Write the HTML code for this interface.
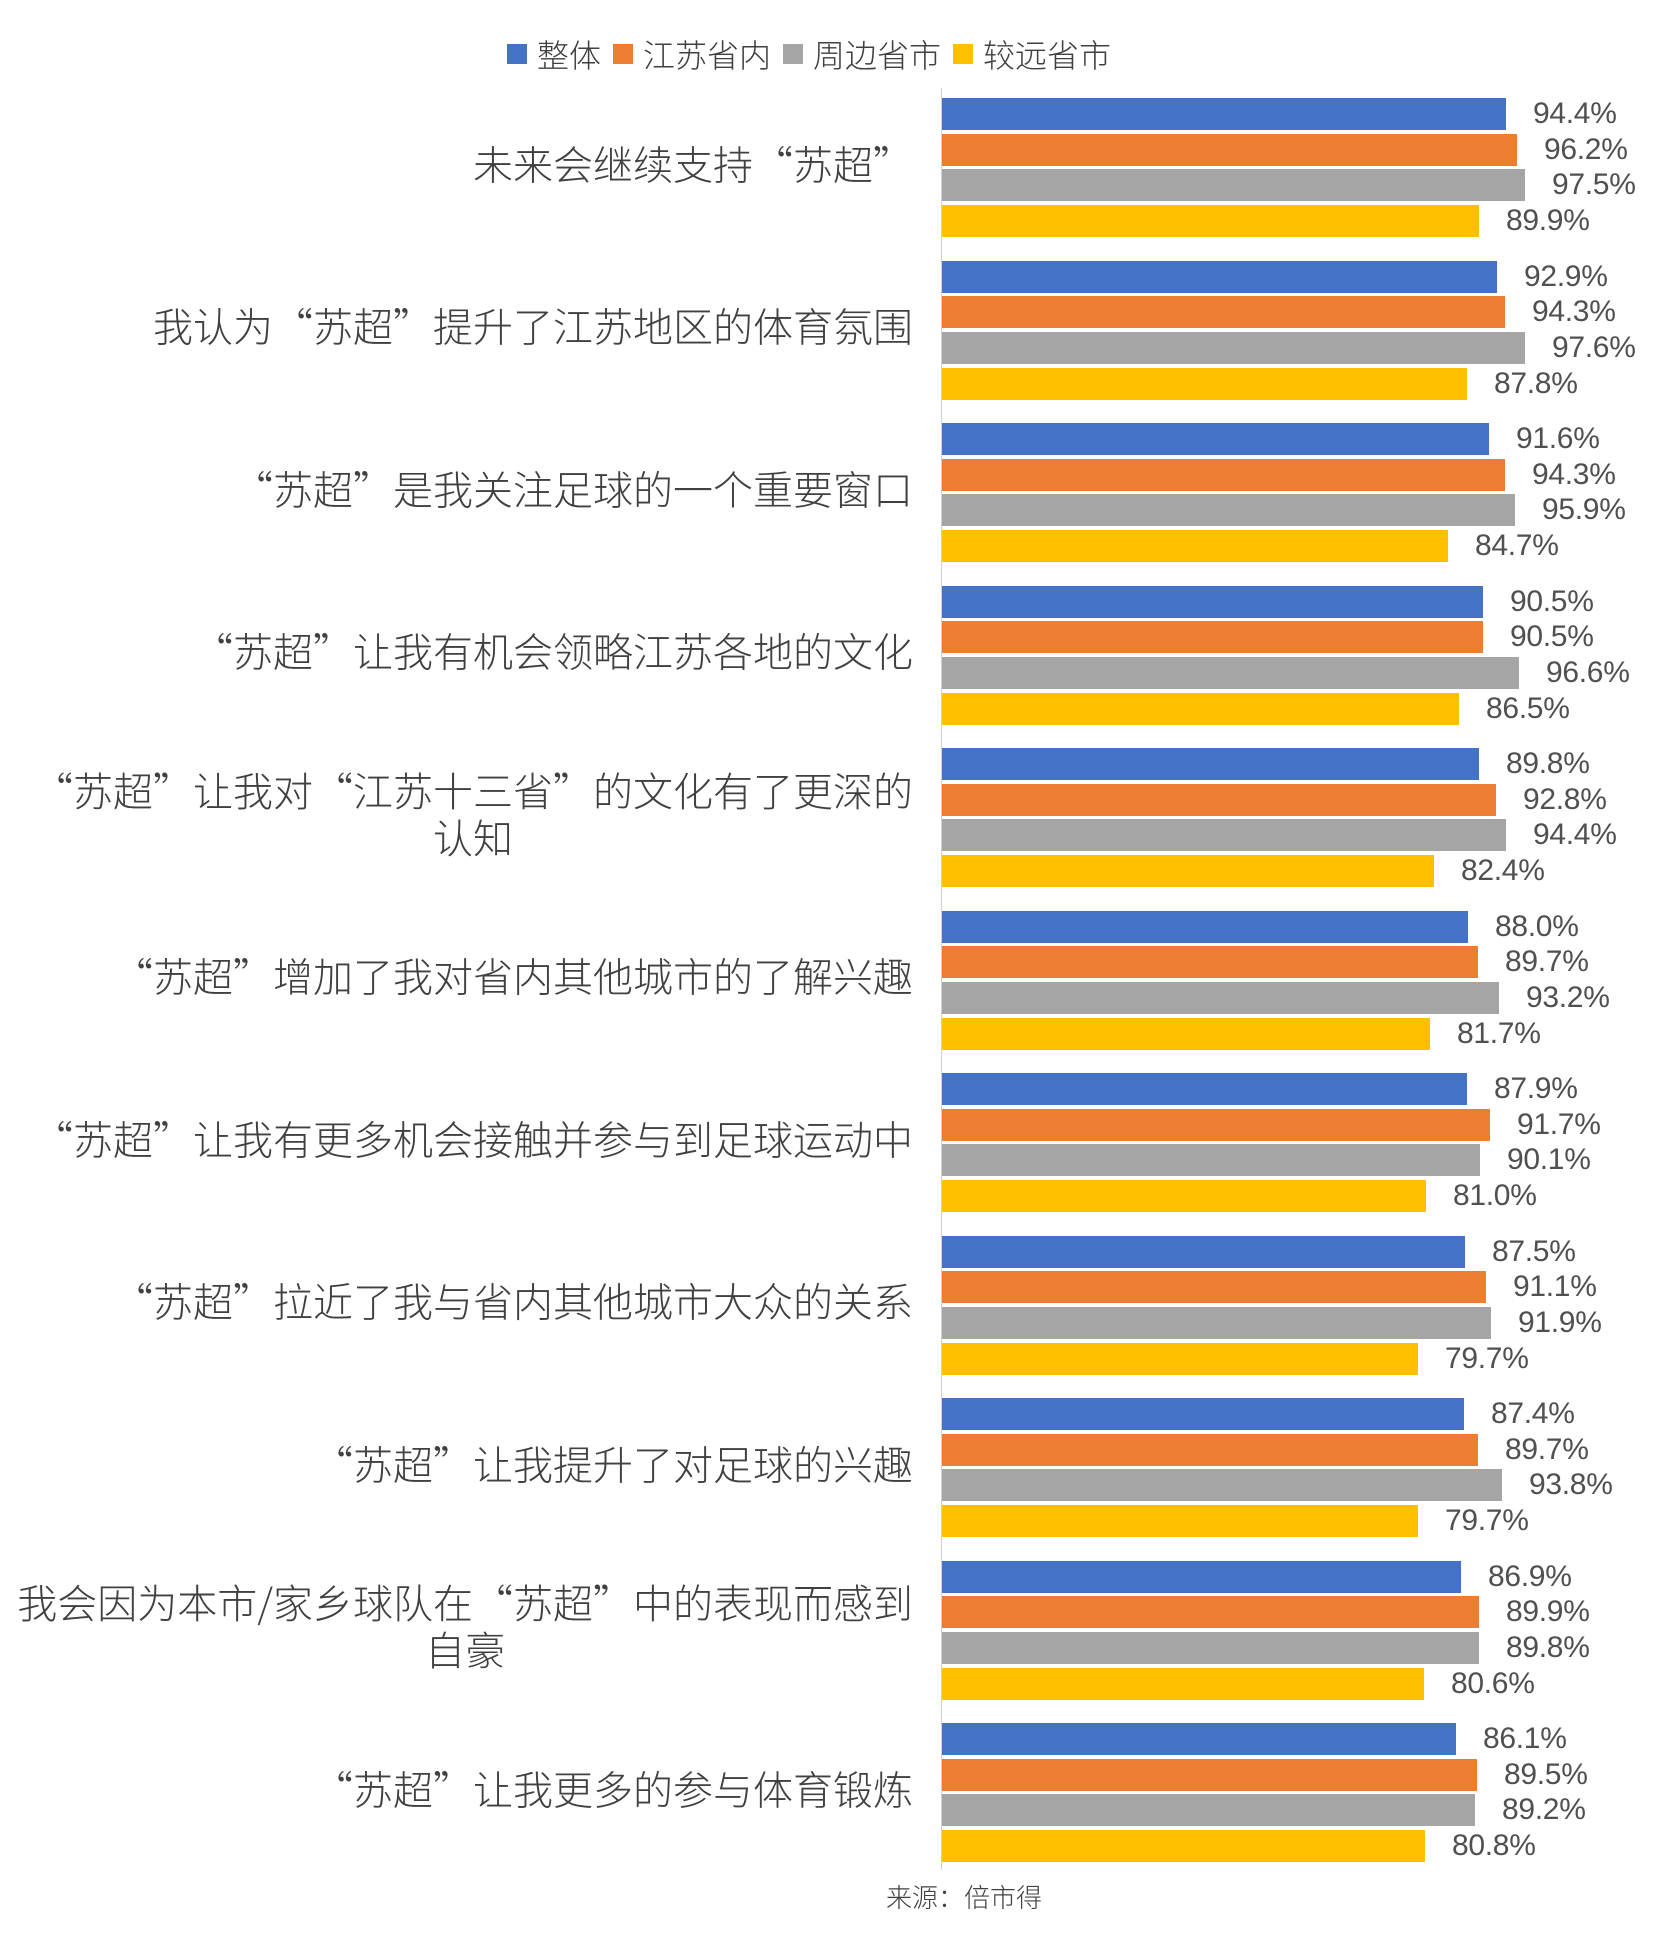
<!DOCTYPE html>
<html><head><meta charset="utf-8"><style>
body{margin:0;width:1668px;height:1933px;background:#fff;position:relative;overflow:hidden;font-family:"Liberation Sans","Noto Sans CJK SC",sans-serif;color:#404040}
.leg{position:absolute;top:31px;left:507px;font-size:32px;display:flex;align-items:center;white-space:nowrap;font-family:"Noto Sans CJK SC",sans-serif;font-weight:300}
.leg i{display:inline-block;width:20px;height:20px;margin:0 10px 0 0}
.leg span{margin-right:12px}
.axis{position:absolute;left:941px;top:88px;width:1px;height:1782px;background:#d0d0d0}
.g{position:absolute;left:942px}
.r{display:flex;align-items:center;height:32px;margin-bottom:3.7px}
.b{height:32px}
.r span{font-size:30px;margin-left:27px;white-space:nowrap;letter-spacing:-0.3px;color:#505050}
.c1{background:#4472C4}.c2{background:#ED7D31}.c3{background:#A5A5A5}.c4{background:#FFC000}
.lab{position:absolute;right:755px;font-size:40px;text-align:center;line-height:47px;white-space:nowrap;transform:translateY(-50%);margin-top:-3px;font-family:"Noto Sans CJK SC",sans-serif;font-weight:300;color:#404040}
.src{position:absolute;left:886px;top:1878px;font-size:26px;font-family:"Noto Sans CJK SC",sans-serif;font-weight:300}
</style></head><body>
<div class="leg"><i class="c1"></i><span>整体</span><i class="c2"></i><span>江苏省内</span><i class="c3"></i><span>周边省市</span><i class="c4"></i><span>较远省市</span></div>
<div class="axis"></div>

<div class="lab" style="top:166px">未来会继续支持“苏超”</div>
<div class="lab" style="top:328px">我认为“苏超”提升了江苏地区的体育氛围</div>
<div class="lab" style="top:491px">“苏超”是我关注足球的一个重要窗口</div>
<div class="lab" style="top:653px">“苏超”让我有机会领略江苏各地的文化</div>
<div class="lab" style="top:816px">“苏超”让我对“江苏十三省”的文化有了更深的<br>认知</div>
<div class="lab" style="top:978px">“苏超”增加了我对省内其他城市的了解兴趣</div>
<div class="lab" style="top:1141px">“苏超”让我有更多机会接触并参与到足球运动中</div>
<div class="lab" style="top:1303px">“苏超”拉近了我与省内其他城市大众的关系</div>
<div class="lab" style="top:1466px">“苏超”让我提升了对足球的兴趣</div>
<div class="lab" style="top:1628px">我会因为本市/家乡球队在“苏超”中的表现而感到<br>自豪</div>
<div class="lab" style="top:1791px">“苏超”让我更多的参与体育锻炼</div>

<div class="g" style="top:98px">
<div class="r"><div class="b c1" style="width:564px"></div><span>94.4%</span></div>
<div class="r"><div class="b c2" style="width:575px"></div><span>96.2%</span></div>
<div class="r"><div class="b c3" style="width:583px"></div><span>97.5%</span></div>
<div class="r"><div class="b c4" style="width:537px"></div><span>89.9%</span></div>
</div>
<div class="g" style="top:260.5px">
<div class="r"><div class="b c1" style="width:555px"></div><span>92.9%</span></div>
<div class="r"><div class="b c2" style="width:563px"></div><span>94.3%</span></div>
<div class="r"><div class="b c3" style="width:583px"></div><span>97.6%</span></div>
<div class="r"><div class="b c4" style="width:525px"></div><span>87.8%</span></div>
</div>
<div class="g" style="top:423px">
<div class="r"><div class="b c1" style="width:547px"></div><span>91.6%</span></div>
<div class="r"><div class="b c2" style="width:563px"></div><span>94.3%</span></div>
<div class="r"><div class="b c3" style="width:573px"></div><span>95.9%</span></div>
<div class="r"><div class="b c4" style="width:506px"></div><span>84.7%</span></div>
</div>
<div class="g" style="top:585.5px">
<div class="r"><div class="b c1" style="width:541px"></div><span>90.5%</span></div>
<div class="r"><div class="b c2" style="width:541px"></div><span>90.5%</span></div>
<div class="r"><div class="b c3" style="width:577px"></div><span>96.6%</span></div>
<div class="r"><div class="b c4" style="width:517px"></div><span>86.5%</span></div>
</div>
<div class="g" style="top:748px">
<div class="r"><div class="b c1" style="width:537px"></div><span>89.8%</span></div>
<div class="r"><div class="b c2" style="width:554px"></div><span>92.8%</span></div>
<div class="r"><div class="b c3" style="width:564px"></div><span>94.4%</span></div>
<div class="r"><div class="b c4" style="width:492px"></div><span>82.4%</span></div>
</div>
<div class="g" style="top:910.5px">
<div class="r"><div class="b c1" style="width:526px"></div><span>88.0%</span></div>
<div class="r"><div class="b c2" style="width:536px"></div><span>89.7%</span></div>
<div class="r"><div class="b c3" style="width:557px"></div><span>93.2%</span></div>
<div class="r"><div class="b c4" style="width:488px"></div><span>81.7%</span></div>
</div>
<div class="g" style="top:1073px">
<div class="r"><div class="b c1" style="width:525px"></div><span>87.9%</span></div>
<div class="r"><div class="b c2" style="width:548px"></div><span>91.7%</span></div>
<div class="r"><div class="b c3" style="width:538px"></div><span>90.1%</span></div>
<div class="r"><div class="b c4" style="width:484px"></div><span>81.0%</span></div>
</div>
<div class="g" style="top:1235.5px">
<div class="r"><div class="b c1" style="width:523px"></div><span>87.5%</span></div>
<div class="r"><div class="b c2" style="width:544px"></div><span>91.1%</span></div>
<div class="r"><div class="b c3" style="width:549px"></div><span>91.9%</span></div>
<div class="r"><div class="b c4" style="width:476px"></div><span>79.7%</span></div>
</div>
<div class="g" style="top:1398px">
<div class="r"><div class="b c1" style="width:522px"></div><span>87.4%</span></div>
<div class="r"><div class="b c2" style="width:536px"></div><span>89.7%</span></div>
<div class="r"><div class="b c3" style="width:560px"></div><span>93.8%</span></div>
<div class="r"><div class="b c4" style="width:476px"></div><span>79.7%</span></div>
</div>
<div class="g" style="top:1560.5px">
<div class="r"><div class="b c1" style="width:519px"></div><span>86.9%</span></div>
<div class="r"><div class="b c2" style="width:537px"></div><span>89.9%</span></div>
<div class="r"><div class="b c3" style="width:537px"></div><span>89.8%</span></div>
<div class="r"><div class="b c4" style="width:482px"></div><span>80.6%</span></div>
</div>
<div class="g" style="top:1723px">
<div class="r"><div class="b c1" style="width:514px"></div><span>86.1%</span></div>
<div class="r"><div class="b c2" style="width:535px"></div><span>89.5%</span></div>
<div class="r"><div class="b c3" style="width:533px"></div><span>89.2%</span></div>
<div class="r"><div class="b c4" style="width:483px"></div><span>80.8%</span></div>
</div>

<div class="src">来源：倍市得</div>
</body></html>
